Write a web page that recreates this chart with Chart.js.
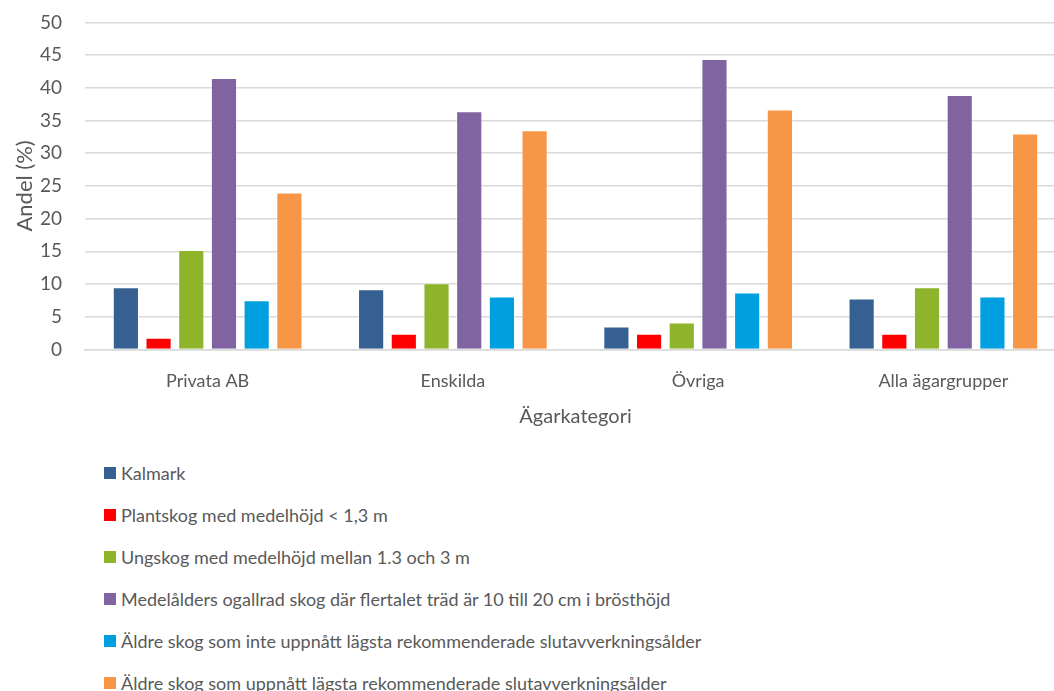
<!DOCTYPE html>
<html>
<head>
<meta charset="utf-8">
<script src="https://cdn.jsdelivr.net/npm/chart.js@4/dist/chart.umd.min.js"></script>
<style>
  html, body { margin: 0; padding: 0; background: #fff; overflow: hidden; }
  #wrap { position: relative; width: 1066px; height: 445px; margin-top: -12px; }
  #legend { position: absolute; left: 104px; top: 452px; font-family: Lato, sans-serif; font-size: 18px; color: #595959; }
  #legend div { height: 42px; display: flex; align-items: center; white-space: nowrap; }
  #legend span.box { display: inline-block; width: 12px; height: 12px; margin-right: 5px; }
</style>
</head>
<body>
<div id="wrap"><canvas id="chart"></canvas></div>
<div id="legend"></div>
<script>
const categories = ['Privata AB', 'Enskilda', 'Övriga', 'Alla ägargrupper'];
const seriesNames = [
  'Kalmark',
  'Plantskog med medelhöjd < 1,3 m',
  'Ungskog med medelhöjd mellan 1.3 och 3 m',
  'Medelålders ogallrad skog där flertalet träd är 10 till 20 cm i brösthöjd',
  'Äldre skog som inte uppnått lägsta rekommenderade slutavverkningsålder',
  'Äldre skog som uppnått lägsta rekommenderade slutavverkningsålder'
];
const kalmark = [9.5, 9.2, 3.5, 7.8];
const plantskog = [1.8, 2.4, 2.4, 2.4];
const ungskog = [15.2, 10.1, 4.1, 9.5];
const medelalders = [41.5, 36.4, 44.4, 38.9];
const aldreInte = [7.5, 8.1, 8.7, 8.1];
const aldreUppnatt = [24.0, 33.5, 36.7, 33.0];
const colors = ['#376092', '#FF0000', '#8DB42A', '#8064A2', '#00A0E0', '#F79646'];

const values = [kalmark, plantskog, ungskog, medelalders, aldreInte, aldreUppnatt];

const ctx = document.getElementById('chart').getContext('2d');
const chart = new Chart(ctx, {
  type: 'bar',
  data: {
    labels: categories,
    datasets: values.map((v, i) => ({
      label: seriesNames[i],
      data: v,
      backgroundColor: colors[i],
      borderColor: 'rgba(255,255,255,0.5)',
      borderWidth: 1,
      categoryPercentage: 0.8,
      barPercentage: 0.8
    }))
  },
  options: {
    responsive: true,
    maintainAspectRatio: false,
    animation: false,
    layout: { padding: { top: 4, left: 8, right: 0, bottom: 0 } },
    plugins: { legend: { display: false }, tooltip: { enabled: false } },
    scales: {
      x: {
        grid: { display: false },
        border: { color: '#d9d9d9', width: 1.5 },
        ticks: { color: '#595959', font: { family: 'Lato', size: 18 }, padding: 13 },
        title: { display: true, text: 'Ägarkategori', color: '#595959', font: { family: 'Lato', size: 20 }, padding: { top: 0 } }
      },
      y: {
        min: 0, max: 50,
        afterFit: s => { s.width = 77; },
        ticks: { stepSize: 5, color: '#595959', font: { family: 'Lato', size: 19 }, padding: 23 },
        grid: { color: '#d9d9d9', lineWidth: 1.5, drawTicks: false },
        border: { display: false },
        title: { display: true, text: 'Andel (%)', color: '#595959', font: { family: 'Lato', size: 22 }, padding: { top: 4, bottom: 4 } }
      }
    }
  }
});

const legend = document.getElementById('legend');
chart.data.datasets.forEach(ds => {
  const row = document.createElement('div');
  const box = document.createElement('span');
  box.className = 'box';
  box.style.background = ds.backgroundColor;
  row.appendChild(box);
  row.appendChild(document.createTextNode(ds.label));
  legend.appendChild(row);
});
</script>
</body>
</html>
